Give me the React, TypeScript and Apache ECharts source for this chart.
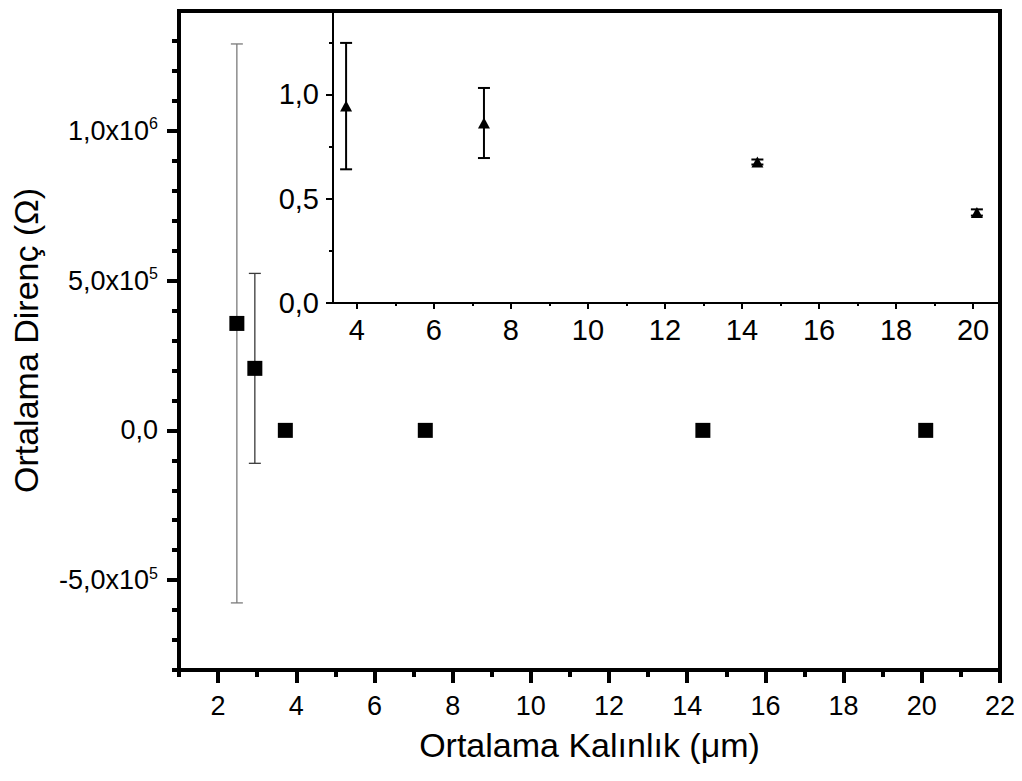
import React, { useEffect, useRef } from "react";
import * as echarts from "echarts";

// Main plot data
const mainX = [2.48, 2.94, 3.72, 7.3, 14.4, 20.1];
const mainY = [357000, 207000, 0.94, 0.863, 0.676, 0.434];
const mainErr = [933000, 317000, 0.303, 0.168, 0.012, 0.015];
const mainErrColor = ["#7a7a7a", "#3a3a3a", "#000", "#000", "#000", "#000"];

// Inset data
const insetX = [3.72, 7.3, 14.4, 20.1];
const insetY = [0.944, 0.863, 0.676, 0.434];
const insetErr = [0.303, 0.168, 0.012, 0.015];

// Ticks
const mainXMajor = [2, 4, 6, 8, 10, 12, 14, 16, 18, 20, 22];
const mainXMinor = [1, 3, 5, 7, 9, 11, 13, 15, 17, 19, 21];
const mainYMajor = [-500000, 0, 500000, 1000000];
const mainYMinor = [-800000, -700000, -600000, -400000, -300000, -200000, -100000, 100000, 200000, 300000, 400000, 600000, 700000, 800000, 900000, 1100000, 1200000, 1300000];
const insetXMajor = [4, 6, 8, 10, 12, 14, 16, 18, 20];
const insetXMinor = [5, 7, 9, 11, 13, 15, 17, 19];
const insetYMajor = [0, 0.5, 1.0];
const insetYMinor = [0.25, 0.75, 1.25];

const FONT = "Liberation Sans, Arial, sans-serif";
const BLK = "#000";

function mainYLabel(v: number): string {
  if (v === 0) return "{a|0,0}";
  const sign = v < 0 ? "-" : "";
  const a = Math.abs(v);
  const exp = Math.floor(Math.log10(a) + 1e-9);
  const mant = a / Math.pow(10, exp);
  return "{a|" + sign + mant.toFixed(1).replace(".", ",") + "x10}{s|" + exp + "}";
}

function tickAxis(grid: number, pos: string, min: number, max: number, values: number[], len: number, width: number) {
  return {
    gridIndex: grid, type: "value", position: pos, min, max,
    splitLine: { show: false },
    axisLine: { show: false, onZero: false },
    axisTick: { show: true, customValues: values, length: len, lineStyle: { color: BLK, width } },
    axisLabel: { show: false },
  };
}

function errorBars(xIdx: number, yIdx: number, xs: number[], ys: number[], errs: number[], colors: string[], width: number, capHalf: number) {
  const data = xs.map((x, i) => [x, ys[i] - errs[i], ys[i] + errs[i], i]);
  return {
    type: "custom",
    xAxisIndex: xIdx,
    yAxisIndex: yIdx,
    data,
    encode: { x: 0, y: [1, 2] },
    z: 2,
    silent: true,
    renderItem: (params: any, api: any) => {
      const x = api.value(0);
      const lo = api.value(1);
      const hi = api.value(2);
      const idx = api.value(3);
      const p1 = api.coord([x, hi]);
      const p2 = api.coord([x, lo]);
      const style = { stroke: colors[idx], lineWidth: width, fill: "none" };
      return {
        type: "group",
        children: [
          { type: "line", shape: { x1: p1[0], y1: p1[1], x2: p2[0], y2: p2[1] }, style },
          { type: "line", shape: { x1: p1[0] - capHalf, y1: p1[1], x2: p1[0] + capHalf, y2: p1[1] }, style },
          { type: "line", shape: { x1: p2[0] - capHalf, y1: p2[1], x2: p2[0] + capHalf, y2: p2[1] }, style },
        ],
      };
    },
  };
}

export default function App() {
  const ref = useRef<HTMLDivElement>(null);
  useEffect(() => {
    const chart = echarts.init(ref.current!, null, { renderer: "svg" });
    const option: any = {
      animation: false,
      backgroundColor: "#fff",
      textStyle: { fontFamily: FONT },
      grid: [
        { left: 179, top: 11, right: 22, bottom: 111, show: true, borderColor: BLK, borderWidth: 4, backgroundColor: "transparent" },
        { left: 333, top: 11, right: 22, bottom: 478, show: true, borderColor: BLK, borderWidth: 2, backgroundColor: "transparent" },
      ],
      xAxis: [
        {
          gridIndex: 0, type: "value", position: "bottom", min: 1, max: 22,
          splitLine: { show: false },
          axisLine: { show: true, onZero: false, lineStyle: { color: BLK, width: 4 } },
          axisTick: { show: false },
          axisLabel: { customValues: mainXMajor, color: BLK, fontSize: 27, margin: 22, fontFamily: FONT },
          name: "Ortalama Kalınlık (μm)", nameLocation: "middle", nameGap: 58,
          nameTextStyle: { fontSize: 34, color: BLK, fontFamily: FONT },
        },
        tickAxis(0, "bottom", 1, 22, mainXMajor, 13, 4),
        tickAxis(0, "bottom", 1, 22, mainXMinor, 7, 4),
        {
          gridIndex: 1, type: "value", position: "bottom", min: 3.38, max: 20.7,
          splitLine: { show: false },
          axisLine: { show: true, onZero: false, lineStyle: { color: BLK, width: 2 } },
          axisTick: { show: false },
          axisLabel: { customValues: insetXMajor, color: BLK, fontSize: 29, margin: 12, fontFamily: FONT },
        },
        tickAxis(1, "bottom", 3.38, 20.7, insetXMajor, 6, 2),
        tickAxis(1, "bottom", 3.38, 20.7, insetXMinor, 3, 2),
      ],
      yAxis: [
        {
          gridIndex: 0, type: "value", position: "left", min: -800000, max: 1400000,
          splitLine: { show: false },
          axisLine: { show: true, onZero: false, lineStyle: { color: BLK, width: 4 } },
          axisTick: { show: false },
          axisLabel: {
            customValues: mainYMajor, color: BLK, margin: 21, fontFamily: FONT,
            formatter: (v: number) => mainYLabel(v),
            rich: {
              a: { fontSize: 27, color: BLK, fontFamily: FONT, lineHeight: 30 },
              s: { fontSize: 16, color: BLK, fontFamily: FONT, verticalAlign: "top", lineHeight: 14 },
            },
          },
          name: "Ortalama Direnç (Ω)", nameLocation: "middle", nameGap: 136,
          nameTextStyle: { fontSize: 34, color: BLK, fontFamily: FONT },
        },
        tickAxis(0, "left", -800000, 1400000, mainYMajor, 12, 4),
        tickAxis(0, "left", -800000, 1400000, mainYMinor, 7, 4),
        {
          gridIndex: 1, type: "value", position: "left", min: 0, max: 1.4,
          splitLine: { show: false },
          axisLine: { show: true, onZero: false, lineStyle: { color: BLK, width: 2 } },
          axisTick: { show: false },
          axisLabel: {
            customValues: insetYMajor, color: BLK, fontSize: 29, margin: 14, fontFamily: FONT,
            formatter: (v: number) => v.toFixed(1).replace(".", ","),
          },
        },
        tickAxis(1, "left", 0, 1.4, insetYMajor, 7, 2),
        tickAxis(1, "left", 0, 1.4, insetYMinor, 4, 2),
      ],
      series: [
        errorBars(0, 0, mainX, mainY, mainErr, mainErrColor, 1.3, 6),
        {
          type: "scatter", xAxisIndex: 0, yAxisIndex: 0, z: 3,
          symbol: "rect", symbolSize: 15,
          itemStyle: { color: BLK, opacity: 1 },
          data: mainX.map((x, i) => [x, mainY[i]]),
        },
        errorBars(3, 3, insetX, insetY, insetErr, insetX.map(() => BLK), 2, 6),
        {
          type: "scatter", xAxisIndex: 3, yAxisIndex: 3, z: 3,
          symbol: "triangle", symbolSize: [12, 11],
          itemStyle: { color: BLK, opacity: 1 },
          data: insetX.map((x, i) => [x, insetY[i]]),
        },
      ],
    };
    chart.setOption(option);
    return () => chart.dispose();
  }, []);
  return <div ref={ref} style={{ position: "absolute", left: 0, top: 0, width: 1022, height: 781 }} />;
}
